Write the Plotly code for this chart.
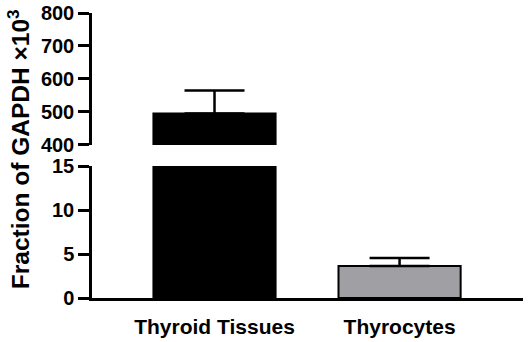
import plotly.graph_objects as go

categories = ["Thyroid Tissues", "Thyrocytes"]
values = [495, 3.65]
err_up = [70, 0.9]

FONT = "Arial, Liberation Sans, sans-serif"
colors = ["#000000", "#a0a0a4"]

fig = go.Figure()
# bottom segment (0-15)
fig.add_trace(go.Bar(
    x=categories, y=values, xaxis="x", yaxis="y",
    marker=dict(color=colors, line=dict(color="black", width=2)),
    width=0.66,
    error_y=dict(type="data", symmetric=False, array=[0, err_up[1]], arrayminus=[0, 0],
                 color="black", thickness=2.5, width=30),
    showlegend=False,
))
# top segment (400-800)
fig.add_trace(go.Bar(
    x=categories, y=values, xaxis="x", yaxis="y2",
    marker=dict(color=colors, line=dict(color="black", width=2)),
    width=0.66,
    error_y=dict(type="data", symmetric=False, array=[err_up[0], 0], arrayminus=[0, 0],
                 color="black", thickness=2.5, width=30),
    showlegend=False,
))

yax_common = dict(showline=True, linecolor="black", linewidth=2.5, ticks="outside",
                  ticklen=11, tickwidth=2.5, tickcolor="black", showgrid=False, zeroline=False,
                  automargin=False,
                  tickfont=dict(family=FONT, size=20, color="black", weight="bold"))

fig.update_layout(
    width=529, height=342,
    margin=dict(l=92, r=6, t=13, b=44, autoexpand=False),
    paper_bgcolor="white", plot_bgcolor="white",
    bargap=0.34,
    xaxis=dict(anchor="y", range=[-0.662, 1.667], showline=True, linecolor="black", linewidth=2.5,
               ticks="", showgrid=False, zeroline=False, automargin=False, ticklabelstandoff=8,
               tickfont=dict(family=FONT, size=21, color="black", weight="bold")),
    yaxis=dict(domain=[0, 0.463], range=[0, 15], tickvals=[0, 5, 10, 15], **yax_common),
    yaxis2=dict(domain=[0.537, 1], range=[400, 800], tickvals=[400, 500, 600, 700, 800],
                anchor="x", **yax_common),
    annotations=[dict(text="Fraction of GAPDH ×10<sup>3</sup>", xref="paper", yref="paper",
                      x=-0.1717, y=0.522, xanchor="center", yanchor="middle", textangle=-90,
                      showarrow=False,
                      font=dict(family=FONT, size=24.5, color="black", weight="bold"))],
)

fig.write_html("out.html", config={"displayModeBar": False},
               post_script="document.body.style.margin='0';")
